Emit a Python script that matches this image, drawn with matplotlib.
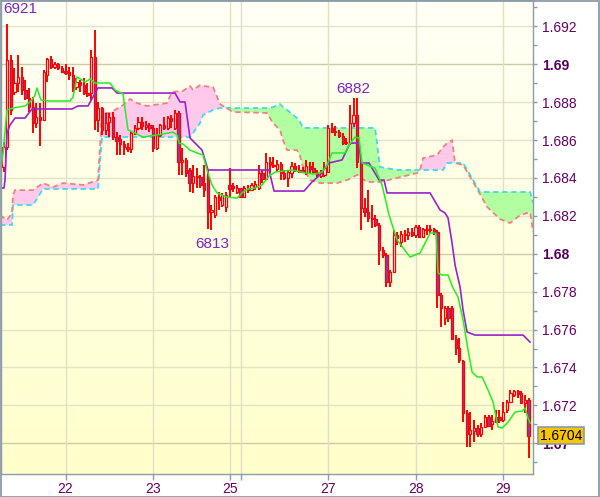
import numpy as np
import matplotlib
matplotlib.use("Agg")
import matplotlib.pyplot as plt
from matplotlib.colors import LinearSegmentedColormap
from matplotlib.patches import Rectangle
import matplotlib.transforms as mtransforms

plt.rcParams['font.family'] = ['Liberation Sans', 'DejaVu Sans']

# hourly candles, bar index 0..144
opens = [
    1.68458, 1.68563, 1.69022, 1.68854, 1.68901, 1.68933, 1.68864, 1.68822, 1.68774, 1.68690,
    1.68722, 1.68706, 1.68943, 1.69028, 1.68985, 1.69001, 1.68980, 1.68964, 1.68959, 1.68943,
    1.68880, 1.68906, 1.68890, 1.68848, 1.68848, 1.69038, 1.68706, 1.68769, 1.68653, 1.68695,
    1.68722, 1.68616, 1.68605, 1.68579, 1.68563, 1.68553, 1.68637, 1.68664, 1.68695, 1.68669,
    1.68679, 1.68664, 1.68558, 1.68627, 1.68679, 1.68664, 1.68716, 1.68664, 1.68743, 1.68484,
    1.68495, 1.68442, 1.68373, 1.68410, 1.68405, 1.68373, 1.68405, 1.68220, 1.68204, 1.68299,
    1.68257, 1.68247, 1.68363, 1.68357, 1.68326, 1.68347, 1.68299, 1.68347, 1.68336, 1.68352,
    1.68347, 1.68426, 1.68394, 1.68484, 1.68468, 1.68447, 1.68474, 1.68426, 1.68400, 1.68426,
    1.68463, 1.68442, 1.68442, 1.68426, 1.68463, 1.68452, 1.68431, 1.68410, 1.68416, 1.68431,
    1.68664, 1.68648, 1.68642, 1.68621, 1.68584, 1.68584, 1.68690, 1.68732, 1.68484, 1.68241,
    1.68220, 1.68189, 1.68183, 1.68152, 1.68020, 1.67993, 1.67851, 1.67904, 1.68099, 1.68062,
    1.68104, 1.68099, 1.68115, 1.68099, 1.68141, 1.68088, 1.68131, 1.68125, 1.68131, 1.68115,
    1.67782, 1.67661, 1.67714, 1.67714, 1.67550, 1.67503, 1.67434, 1.67159, 1.67049, 1.67065,
    1.67080, 1.67049, 1.67086, 1.67138, 1.67102, 1.67112, 1.67138, 1.67123, 1.67175, 1.67218,
    1.67255, 1.67276, 1.67265, 1.67212, 1.67228,
]
closes = [
    1.68563, 1.69022, 1.68759, 1.68901, 1.68933, 1.68864, 1.68822, 1.68774, 1.68690, 1.68722,
    1.68706, 1.68959, 1.69028, 1.68985, 1.69001, 1.68980, 1.68959, 1.68954, 1.68943, 1.68880,
    1.68906, 1.68890, 1.68848, 1.68838, 1.69038, 1.68706, 1.68769, 1.68653, 1.68690, 1.68722,
    1.68616, 1.68595, 1.68579, 1.68563, 1.68553, 1.68637, 1.68664, 1.68695, 1.68674, 1.68679,
    1.68664, 1.68558, 1.68627, 1.68679, 1.68664, 1.68716, 1.68700, 1.68743, 1.68484, 1.68495,
    1.68426, 1.68373, 1.68410, 1.68405, 1.68363, 1.68336, 1.68220, 1.68231, 1.68299, 1.68284,
    1.68310, 1.68310, 1.68342, 1.68347, 1.68347, 1.68299, 1.68347, 1.68336, 1.68363, 1.68368,
    1.68426, 1.68394, 1.68484, 1.68468, 1.68463, 1.68474, 1.68426, 1.68400, 1.68431, 1.68463,
    1.68442, 1.68431, 1.68431, 1.68463, 1.68447, 1.68431, 1.68416, 1.68437, 1.68452, 1.68664,
    1.68642, 1.68642, 1.68621, 1.68584, 1.68590, 1.68690, 1.68732, 1.68484, 1.68241, 1.68220,
    1.68189, 1.68183, 1.68152, 1.68020, 1.67993, 1.67851, 1.67904, 1.68099, 1.68083, 1.68104,
    1.68099, 1.68115, 1.68099, 1.68141, 1.68088, 1.68131, 1.68125, 1.68131, 1.68109, 1.67782,
    1.67714, 1.67714, 1.67661, 1.67550, 1.67503, 1.67439, 1.67159, 1.67049, 1.67070, 1.67080,
    1.67049, 1.67086, 1.67138, 1.67091, 1.67117, 1.67138, 1.67123, 1.67165, 1.67218, 1.67265,
    1.67276, 1.67260, 1.67212, 1.67228, 1.67040,
]
highs = [
    1.68590, 1.69210, 1.69049, 1.68980, 1.69049, 1.68985, 1.68917, 1.68875, 1.68827, 1.68795,
    1.68795, 1.68970, 1.69033, 1.69043, 1.69012, 1.69007, 1.68991, 1.69001, 1.68985, 1.68985,
    1.68927, 1.68917, 1.68927, 1.68901, 1.69075, 1.69181, 1.68801, 1.68774, 1.68743, 1.68743,
    1.68748, 1.68642, 1.68627, 1.68595, 1.68584, 1.68648, 1.68679, 1.68722, 1.68722, 1.68700,
    1.68690, 1.68679, 1.68664, 1.68685, 1.68722, 1.68727, 1.68732, 1.68759, 1.68753, 1.68558,
    1.68505, 1.68452, 1.68468, 1.68452, 1.68416, 1.68468, 1.68442, 1.68257, 1.68310, 1.68326,
    1.68321, 1.68326, 1.68452, 1.68373, 1.68363, 1.68347, 1.68357, 1.68363, 1.68373, 1.68384,
    1.68468, 1.68442, 1.68532, 1.68511, 1.68511, 1.68495, 1.68484, 1.68442, 1.68442, 1.68484,
    1.68479, 1.68468, 1.68458, 1.68495, 1.68484, 1.68484, 1.68442, 1.68442, 1.68484, 1.68679,
    1.68690, 1.68674, 1.68653, 1.68637, 1.68611, 1.68785, 1.68820, 1.68820, 1.68495, 1.68294,
    1.68336, 1.68257, 1.68204, 1.68162, 1.68036, 1.68004, 1.67914, 1.68125, 1.68115, 1.68120,
    1.68125, 1.68136, 1.68136, 1.68152, 1.68152, 1.68136, 1.68152, 1.68152, 1.68136, 1.68125,
    1.67793, 1.67724, 1.67724, 1.67724, 1.67571, 1.67555, 1.67439, 1.67175, 1.67165, 1.67123,
    1.67096, 1.67107, 1.67149, 1.67149, 1.67149, 1.67175, 1.67175, 1.67218, 1.67228, 1.67281,
    1.67281, 1.67281, 1.67276, 1.67255, 1.67239,
]
lows = [
    1.68431, 1.68547, 1.68732, 1.68838, 1.68854, 1.68838, 1.68811, 1.68748, 1.68637, 1.68664,
    1.68569, 1.68700, 1.68906, 1.68975, 1.68975, 1.68970, 1.68954, 1.68943, 1.68917, 1.68854,
    1.68864, 1.68854, 1.68838, 1.68827, 1.68811, 1.68653, 1.68642, 1.68627, 1.68627, 1.68616,
    1.68600, 1.68521, 1.68521, 1.68521, 1.68537, 1.68532, 1.68627, 1.68653, 1.68653, 1.68653,
    1.68642, 1.68537, 1.68547, 1.68616, 1.68653, 1.68653, 1.68664, 1.68653, 1.68416, 1.68416,
    1.68405, 1.68326, 1.68321, 1.68347, 1.68347, 1.68299, 1.68130, 1.68125, 1.68189, 1.68231,
    1.68247, 1.68220, 1.68294, 1.68326, 1.68315, 1.68294, 1.68294, 1.68321, 1.68331, 1.68336,
    1.68336, 1.68373, 1.68389, 1.68426, 1.68452, 1.68431, 1.68389, 1.68389, 1.68352, 1.68400,
    1.68431, 1.68426, 1.68426, 1.68416, 1.68426, 1.68426, 1.68405, 1.68400, 1.68405, 1.68426,
    1.68637, 1.68621, 1.68611, 1.68574, 1.68574, 1.68574, 1.68669, 1.68452, 1.68125, 1.68194,
    1.68168, 1.68136, 1.68141, 1.67941, 1.67978, 1.67825, 1.67825, 1.67898, 1.68046, 1.68036,
    1.68062, 1.68073, 1.68088, 1.68083, 1.68083, 1.68083, 1.68099, 1.68109, 1.68099, 1.67714,
    1.67613, 1.67624, 1.67640, 1.67545, 1.67466, 1.67423, 1.67112, 1.66980, 1.66980, 1.67007,
    1.67033, 1.67033, 1.67080, 1.67086, 1.67070, 1.67107, 1.67107, 1.67112, 1.67159, 1.67212,
    1.67244, 1.67239, 1.67207, 1.67159, 1.66922,
]

# kijun (purple) and tenkan (green) lines, vertices
kijun_x = [-0.97, 0.12, 0.40, 0.95, 1.77, 3.14, 5.88, 7.80, 18.77, 20.42, 23.16, 25.90,
           29.75, 31.12, 47.02, 48.40, 49.77, 51.14, 54.43, 56.08, 72.80, 74.18, 82.40,
           84.60, 86.80, 89.26, 92.83, 95.02, 97.49, 98.04, 100.23, 102.97, 104.35,
           105.17, 116.97, 119.71, 121.08, 121.90, 123.00, 123.82, 125.19, 126.02,
           127.11, 129.31, 142.48, 144.39]
kijun_y = [1.68347, 1.68347, 1.68389, 1.68637, 1.68679, 1.68716, 1.68716, 1.68764, 1.68764,
           1.68780, 1.68780, 1.68875, 1.68875, 1.68848, 1.68848, 1.68801, 1.68801, 1.68611,
           1.68547, 1.68442, 1.68442, 1.68331, 1.68331, 1.68379, 1.68416, 1.68479, 1.68495,
           1.68584, 1.68584, 1.68479, 1.68479, 1.68389, 1.68389, 1.68321, 1.68321, 1.68231,
           1.68215, 1.68189, 1.68057, 1.67941, 1.67825, 1.67703, 1.67587, 1.67571, 1.67571,
           1.67534]

tenkan_x = [-0.97, -0.15, 0.95, 2.59, 5.88, 7.80, 8.63, 9.17, 10.27, 12.74, 18.23, 19.05,
            20.15, 21.52, 22.34, 23.71, 25.08, 29.20, 30.57, 32.76, 34.13, 35.50, 38.25,
            42.09, 43.73, 46.47, 47.57, 48.12, 49.22, 51.14, 53.06, 54.70, 55.80, 57.17,
            58.54, 61.29, 64.03, 65.68, 67.05, 68.97, 70.89, 72.80, 74.45, 79.11, 82.68,
            85.42, 87.34, 88.71, 90.08, 93.65, 94.75, 96.39, 97.49, 98.32, 101.88, 103.80,
            105.72, 107.92, 111.48, 114.23, 116.97, 118.61, 119.16, 120.26, 121.90, 123.27,
            124.64, 126.02, 127.39, 128.49, 129.86, 131.23, 132.87, 134.24, 135.61, 136.71,
            138.36, 140.28, 142.20, 143.02, 143.84, 144.39]
tenkan_y = [1.68405, 1.68532, 1.68759, 1.68769, 1.68780, 1.68811, 1.68838, 1.68875, 1.68811,
            1.68806, 1.68806, 1.68827, 1.68933, 1.68917, 1.68906, 1.68922, 1.68901, 1.68901,
            1.68864, 1.68843, 1.68653, 1.68642, 1.68616, 1.68627, 1.68632, 1.68642, 1.68627,
            1.68584, 1.68579, 1.68547, 1.68532, 1.68521, 1.68442, 1.68363, 1.68321, 1.68299,
            1.68294, 1.68326, 1.68342, 1.68347, 1.68363, 1.68410, 1.68431, 1.68442, 1.68426,
            1.68421, 1.68431, 1.68468, 1.68532, 1.68532, 1.68574, 1.68616, 1.68611, 1.68479,
            1.68452, 1.68363, 1.68204, 1.68073, 1.67983, 1.68004, 1.68109, 1.68109, 1.67898,
            1.67888, 1.67888, 1.67819, 1.67772, 1.67650, 1.67492, 1.67376, 1.67350, 1.67350,
            1.67281, 1.67218, 1.67086, 1.67080, 1.67112, 1.67165, 1.67170, 1.67186, 1.67133,
            1.67107]

# cloud spans (cyan dashed / salmon dashed) on a shared set of bar positions
cloud_x = [-0.97, 0.95, 2.32, 2.59, 3.14, 8.08, 10.82, 13.56, 16.31, 21.80, 25.90, 27.00,
           29.20, 32.76, 34.68, 36.60, 39.34, 44.83, 46.20, 49.22, 51.14, 51.96, 53.88,
           54.70, 57.45, 59.37, 62.93, 72.26, 73.90, 75.82, 76.65, 77.75, 80.49, 81.31,
           82.13, 84.05, 86.80, 91.46, 94.20, 96.95, 99.69, 101.88, 103.25, 107.92,
           113.40, 114.23, 115.05, 118.89, 120.54, 121.64, 123.01, 123.83, 126.03,
           128.77, 130.69, 132.61, 136.18, 138.92, 141.67, 144.41, 145.23]
span_cyan = [1.68152, 1.68152, 1.68152, 1.68257, 1.68257, 1.68257, 1.68342, 1.68342, 1.68342,
             1.68342, 1.68342, 1.68616, 1.68616, 1.68616, 1.68616, 1.68616, 1.68616, 1.68616,
             1.68616, 1.68616, 1.68616, 1.68637, 1.68690, 1.68732, 1.68759, 1.68769, 1.68769,
             1.68769, 1.68774, 1.68790, 1.68774, 1.68759, 1.68716, 1.68695, 1.68664, 1.68664,
             1.68664, 1.68664, 1.68664, 1.68664, 1.68664, 1.68664, 1.68458, 1.68442, 1.68442,
             1.68442, 1.68442, 1.68442, 1.68442, 1.68479, 1.68479, 1.68479, 1.68479, 1.68389,
             1.68326, 1.68326, 1.68326, 1.68326, 1.68326, 1.68326, 1.68268]
span_salmon = [1.68204, 1.68178, 1.68215, 1.68310, 1.68336, 1.68336, 1.68373, 1.68352,
               1.68373, 1.68363, 1.68389, 1.68743, 1.68743, 1.68785, 1.68817, 1.68795,
               1.68780, 1.68795, 1.68854, 1.68859, 1.68885, 1.68864, 1.68890, 1.68885,
               1.68880, 1.68790, 1.68748, 1.68743, 1.68690, 1.68653, 1.68600, 1.68547,
               1.68547, 1.68516, 1.68458, 1.68389, 1.68373, 1.68373, 1.68389, 1.68416,
               1.68379, 1.68379, 1.68379, 1.68400, 1.68426, 1.68442, 1.68505, 1.68521,
               1.68563, 1.68584, 1.68600, 1.68479, 1.68468, 1.68379, 1.68315, 1.68247,
               1.68183, 1.68162, 1.68204, 1.68220, 1.68115]

day_ticks = [17, 41, 62, 65, 89, 113, 137]
day_labels = ['22', '23', '25', '', '27', '28', '29']

price_ticks = [1.670, 1.672, 1.674, 1.676, 1.678, 1.680, 1.682, 1.684, 1.686, 1.688, 1.690, 1.692]
price_labels = ['1.67', '1.672', '1.674', '1.676', '1.678', '1.68', '1.682', '1.684',
                '1.686', '1.688', '1.69', '1.692']
bold_labels = ['1.67', '1.68', '1.69']

# extreme marks: (bar, 'high'/'low')
marks = [(1, 'high'), (96, 'high'), (56, 'low')]

o = np.array(opens)
c = np.array(closes)
h = np.array(highs)
l = np.array(lows)
x = np.arange(len(o))

fig = plt.figure(figsize=(6.0, 4.97), dpi=100)
fig.patch.set_facecolor('white')
ax = fig.add_axes([1 / 600, 23 / 497, 532 / 600, 474 / 497])
ax.set_xlim(-0.7, 145.2)
ax.set_ylim(1.66838, 1.69339)

# background gradient
bg = LinearSegmentedColormap.from_list('bg', ['#FFFFF6', '#FFFFCB'])
ax.imshow(np.linspace(0, 1, 256).reshape(-1, 1), cmap=bg, aspect='auto',
          extent=[-0.7, 145.2, 1.66838, 1.69339], zorder=0)

# grid
for p, lab in zip(price_ticks, price_labels):
    col = '#CBCBA8' if lab in bold_labels else '#E3E3C8'
    ax.axhline(p, color=col, lw=1.0, zorder=0.5)
for d in day_ticks:
    ax.axvline(d, color='#E0E0C6', lw=1.0, zorder=0.5)

# cloud
cx = np.array(cloud_x)
ca = np.array(span_cyan)
cb = np.array(span_salmon)
ax.fill_between(cx, ca, cb, where=cb >= ca, interpolate=True, color='#FFC9EC', lw=0, zorder=1)
ax.fill_between(cx, ca, cb, where=cb < ca, interpolate=True, color='#B2FFA2', lw=0, zorder=1)
ax.plot(cx, ca, color='#3CDCEE', lw=1.3, ls=(0, (3, 2)), zorder=1.5)
ax.plot(cx, cb, color='#F28080', lw=1.3, ls=(0, (3, 2)), zorder=1.5)

# candles
ax.vlines(x, l, h, color='#FF0000', lw=1.4, zorder=3)
up = c >= o
body_lo = np.minimum(o, c)
body_h = np.abs(c - o)
ax.bar(x[up], body_h[up], bottom=body_lo[up], width=0.62, facecolor='#FFFFF2',
       edgecolor='#FF0000', lw=0.9, zorder=4)
ax.bar(x[~up], body_h[~up], bottom=body_lo[~up], width=0.62, facecolor='#8A3FA8',
       edgecolor='#FF0000', lw=0.9, zorder=4)

# indicator lines
ax.plot(kijun_x, kijun_y, color='#9A22CC', lw=1.2, zorder=5)
ax.plot(tenkan_x, tenkan_y, color='#22EE22', lw=1.1, zorder=5)

# extreme labels
for i, kind in marks:
    if kind == 'high':
        txt = f"{int(round(h[i] * 1e4)) % 10000}"
        if i == 1:
            ax.annotate(txt, (x[i], h[i]), xytext=(-2.5, 8), textcoords='offset points',
                        ha='left', va='baseline', color='#7E22C8', fontsize=11, zorder=6)
        else:
            ax.annotate(txt, (x[i], h[i]), xytext=(0, 3.6), textcoords='offset points',
                        ha='center', va='baseline', color='#7E22C8', fontsize=11, zorder=6)
    else:
        txt = f"{int(round(l[i] * 1e4)) % 10000}"
        ax.annotate(txt, (x[i], l[i]), xytext=(3, -5.5), textcoords='offset points',
                    ha='center', va='top', color='#7E22C8', fontsize=11, zorder=6)

# axes and ticks
ax.yaxis.tick_right()
ax.set_yticks(price_ticks)
ax.set_yticklabels(price_labels)
ax.set_yticks(np.arange(1.669, 1.6935, 0.002), minor=True)
ax.tick_params(axis='y', which='both', length=3, width=1, color='#8C9CA8',
               labelcolor='#660066', labelsize=10, pad=3.5)
for t in ax.get_yticklabels():
    if t.get_text() in bold_labels:
        t.set_fontweight('bold')
        t.set_color('#55005A')
ax.set_xticks(day_ticks)
ax.set_xticklabels(day_labels)
ax.tick_params(axis='x', length=4, width=1, color='#8C9CA8', labelcolor='#660066',
               labelsize=10, pad=2)
for s in ax.spines.values():
    s.set_color('#8C9CA8')
    s.set_linewidth(1.0)

# last price tag
tr = mtransforms.blended_transform_factory(ax.transAxes, ax.transData)
ax.text(1.0, c[-1], f"{c[-1]:.4f}", transform=tr, ha='left', va='center',
        fontsize=10, color='black', zorder=10, clip_on=False,
        bbox=dict(boxstyle='square,pad=0.12', facecolor='#F7C600', edgecolor='#8C9CA8', lw=1.2))
for t in ax.texts[-1:]:
    t.set_position((1.0 + 7 / 532, c[-1]))

fig.patches.append(Rectangle((0.5 / 600, 0.5 / 497), 598.5 / 600, 496 / 497,
                             transform=fig.transFigure, fill=False,
                             edgecolor='#8C9CA8', lw=1.3))

fig.savefig('out.png', dpi=100)
